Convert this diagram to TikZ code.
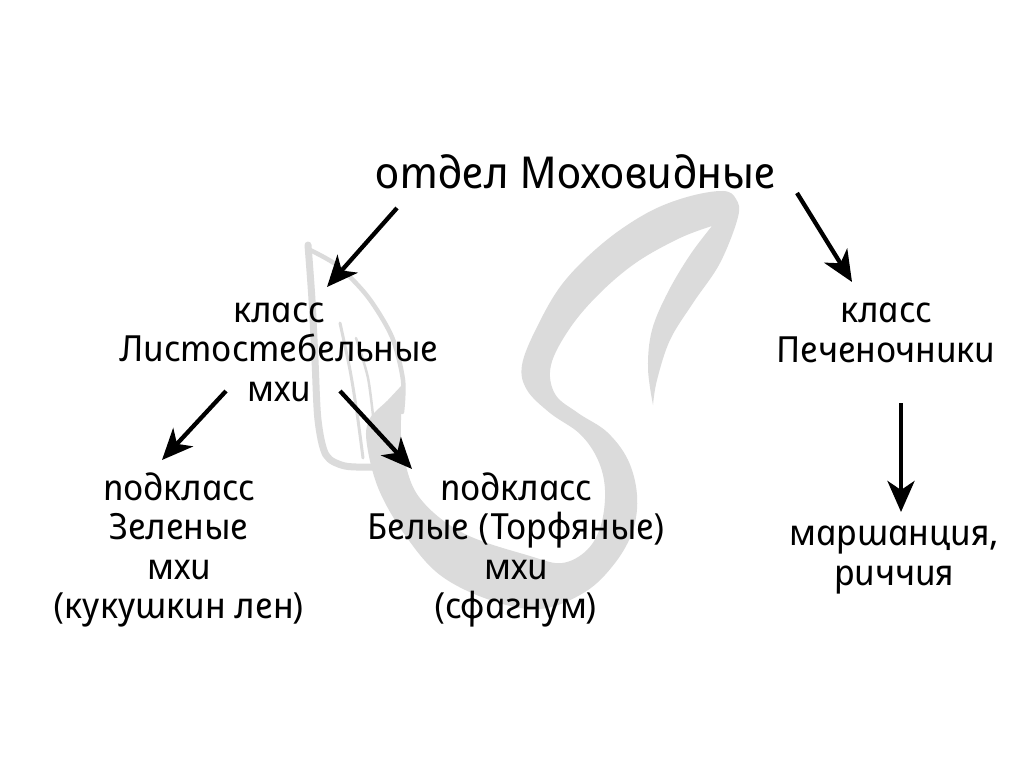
\documentclass[tikz,border=0pt]{standalone}
\usepackage{fontspec}
\newfontfamily\hand{Noto Sans}[ItalicFeatures={FakeSlant=-0.2}]
\usetikzlibrary{arrows.meta}
\begin{document}
\begin{tikzpicture}[x=1pt,y=-1pt,
  lbl/.style={align=center, inner sep=0pt, font=\hand\itshape\fontsize{36}{39.5}\selectfont},
  ttl/.style={inner sep=0pt, font=\hand\itshape\fontsize{44}{48}\selectfont},
  arr/.style={line width=4.3pt, -{Stealth[length=31pt,width=27pt,inset=9pt]}},
  bg/.style={fill=black!14, draw=none},
  bgline/.style={draw=black!14, line cap=round}]
\useasboundingbox[fill=white] (0,0) rectangle (1024,767);
% background swoosh
\fill[bg] plot[smooth, tension=0.6] coordinates {(402,385) (388,400) (369,420) (367,445) (379,490) (405,535) (440,575) (490,600) (540,609) (585,592) (615,563) (633,530) (637,495) (628,460) (607,432) (578,413) (555,394) (551,365) (570,328) (600,293) (637,262) (680,238) (712,226)}
  -- plot[smooth, tension=0.6] coordinates {(712,226) (690,255) (668,292) (652,330) (648,368) (653,405)}
  -- plot[smooth, tension=0.6] coordinates {(653,405) (657,380) (670,340) (693,303) (720,263) (738,217) (736,199) (723,191) (687,197) (647,213) (603,243) (563,283) (537,327) (522,365) (527,390) (550,413) (580,434) (598,460) (605,490) (601,525) (587,550) (562,563) (530,556) (463,533) (419,497) (403,453) (401,420)}
  -- cycle;
% leaf
\draw[bgline, line width=7pt] plot[smooth] coordinates {(308,245) (312,300) (315,360) (318,420) (326,455) (345,466) (375,467)};
\draw[bgline, line width=4.5pt] plot[smooth] coordinates {(310,250) (338,266) (368,297) (392,337) (403,380) (402,412)};
\draw[bgline, line width=3pt] plot[smooth] coordinates {(340,323) (350,370) (357,413) (363,458)};
\draw[bgline, line width=2.5pt] plot[smooth] coordinates {(356,338) (368,378) (374,425)};
% texts
\node[ttl] (title) at (578,172) {отдел Моховидные};
\node[lbl] (cls1) at (281,352) {класс\\Листостебельные\\мхи};
\node[lbl] (cls2) at (888,333) {класс\\Печеночники};
\node[lbl] (sub1) at (181,550) {подкласс\\Зеленые\\мхи\\(кукушкин лен)};
\node[lbl] (sub2) at (518,550) {подкласс\\Белые (Торфяные)\\мхи\\(сфагнум)};
\node[lbl] (ex) at (896,560) {маршанция,\\риччия};
% arrows
\draw[arr] ([shift={(-181,36)}]title.center) -- ([shift={(46,-65)}]cls1.center);
\draw[arr] ([shift={(219,21)}]title.center) -- ([shift={(-36,-51)}]cls2.center);
\draw[arr] ([shift={(-55,39)}]cls1.center) -- ([shift={(-19,-90)}]sub1.center);
\draw[arr] ([shift={(59,39)}]cls1.center) -- ([shift={(-106,-81)}]sub2.center);
\draw[arr] ([shift={(13,70)}]cls2.center) -- ([shift={(5,-48)}]ex.center);
\end{tikzpicture}
\end{document}
